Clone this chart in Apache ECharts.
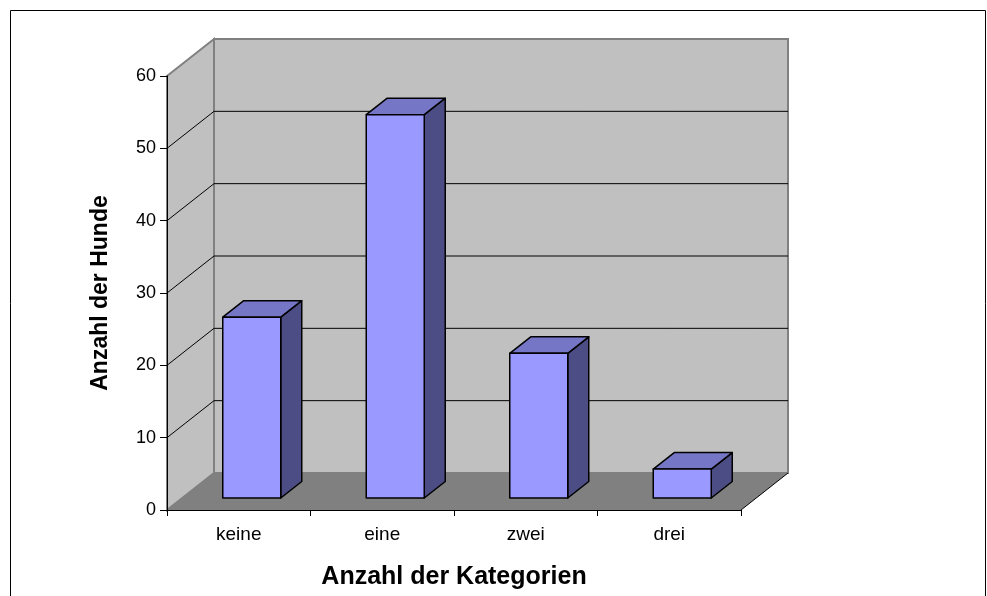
<!DOCTYPE html>
<html>
<head>
<meta charset="utf-8">
<script src="https://cdn.jsdelivr.net/npm/echarts@6/dist/echarts.min.js"></script>
<style>
html, body { margin: 0; padding: 0; background: #fff; }
#chartColumn { width: 987px; height: 596px; }
</style>
</head>
<body>
<div id="chartColumn"></div>
<script>
// Werte
const categories = ['keine', 'eine', 'zwei', 'drei'];
const hunde = [25, 53, 20, 4];
const yTicks = [0, 10, 20, 30, 40, 50, 60];

// 3D-Versatz (Pixel)
const DEPTH_X = 47, DEPTH_Y = -37;      // Tiefe von Boden und Wänden
const BAR_OFF_X = 13, BAR_OFF_Y = -12;  // Vorderseite der Säulen
const BAR_DX = 21, BAR_DY = -16.5;      // Tiefe der Säulen
const BAR_W = 58;

const FONT = 'Liberation Sans, Arial, sans-serif';

const chart = echarts.init(document.getElementById('chartColumn'));

// Rückwand, Seitenwand, Boden und Gitterlinien
function renderWalls(params, api) {
  const cs = params.coordSys;
  const x0 = cs.x, x1 = cs.x + cs.width, y0 = cs.y, y1 = cs.y + cs.height;
  const dx = DEPTH_X, dy = DEPTH_Y;
  const children = [];
  children.push({
    type: 'rect',
    shape: { x: x0 + dx, y: y0 + dy, width: cs.width, height: cs.height },
    style: { fill: '#c0c0c0', stroke: '#808080', lineWidth: 2 }
  });
  children.push({
    type: 'polygon',
    shape: { points: [[x0, y0], [x0 + dx, y0 + dy], [x0 + dx, y1 + dy], [x0, y1]] },
    style: { fill: '#c0c0c0', stroke: '#808080', lineWidth: 2 }
  });
  yTicks.forEach(function (t) {
    if (t === yTicks[0] || t === yTicks[yTicks.length - 1]) return;
    const y = api.coord([0, t])[1];
    children.push({
      type: 'polyline',
      shape: { points: [[x0, y], [x0 + dx, y + dy], [x1 + dx, y + dy]] },
      style: { stroke: '#000', lineWidth: 1, fill: null }
    });
  });
  // Boden
  children.push({
    type: 'polygon',
    shape: { points: [[x0, y1], [x0 + dx, y1 + dy], [x1 + dx, y1 + dy], [x1, y1]] },
    style: { fill: '#808080' }
  });
  children.push({
    type: 'line',
    shape: { x1: x1, y1: y1, x2: x1 + dx, y2: y1 + dy },
    style: { stroke: '#000', lineWidth: 1 }
  });
  return { type: 'group', children: children };
}

// Säule mit Vorder-, Ober- und Seitenfläche
function renderBar(params, api) {
  const i = api.value(0), v = api.value(1);
  const base = api.coord([i, 0]);
  const top = api.coord([i, v]);
  const cx = base[0] + BAR_OFF_X;
  const xl = cx - BAR_W / 2, xr = cx + BAR_W / 2;
  const yb = base[1] + BAR_OFF_Y, yt = top[1] + BAR_OFF_Y;
  const line = { stroke: '#000', lineWidth: 1.5, lineJoin: 'round' };
  return {
    type: 'group',
    children: [
      {
        type: 'polygon',
        shape: { points: [[xr, yb], [xr + BAR_DX, yb + BAR_DY], [xr + BAR_DX, yt + BAR_DY], [xr, yt]] },
        style: Object.assign({ fill: '#4d4d85' }, line)
      },
      {
        type: 'polygon',
        shape: { points: [[xl, yt], [xl + BAR_DX, yt + BAR_DY], [xr + BAR_DX, yt + BAR_DY], [xr, yt]] },
        style: Object.assign({ fill: '#7676c6' }, line)
      },
      {
        type: 'rect',
        shape: { x: xl, y: yt, width: BAR_W, height: yb - yt },
        style: Object.assign({ fill: '#9999ff' }, line)
      }
    ]
  };
}

chart.setOption({
  animation: false,
  textStyle: { fontFamily: FONT },
  graphic: [{
    type: 'rect',
    shape: { x: 10.5, y: 10.5, width: 975, height: 620 },
    style: { fill: null, stroke: '#000', lineWidth: 1 },
    silent: true
  }],
  grid: { left: 167, right: 246, top: 76, bottom: 86 },
  xAxis: {
    type: 'category',
    data: categories,
    boundaryGap: true,
    name: 'Anzahl der Kategorien',
    nameLocation: 'middle',
    nameGap: 55,
    nameTextStyle: { fontSize: 25, fontWeight: 'bold', color: '#000', fontFamily: FONT },
    axisLine: { lineStyle: { color: '#000', width: 1 } },
    axisTick: { show: true, length: 6, lineStyle: { color: '#000' } },
    axisLabel: { fontSize: 19, color: '#000', margin: 15, fontFamily: FONT },
    splitLine: { show: false }
  },
  yAxis: {
    type: 'value',
    min: 0,
    max: 60,
    interval: 10,
    name: 'Anzahl der Hunde',
    nameLocation: 'middle',
    nameRotate: 90,
    nameGap: 55,
    nameTextStyle: { fontSize: 23, fontWeight: 'bold', color: '#000', fontFamily: FONT },
    axisLine: { show: true, lineStyle: { color: '#000', width: 1 } },
    axisTick: { show: true, length: 7, lineStyle: { color: '#000' } },
    axisLabel: { fontSize: 18, color: '#000', margin: 11, fontFamily: FONT },
    splitLine: { show: false }
  },
  series: [
    {
      name: 'Wände',
      type: 'custom',
      z: -1,
      silent: true,
      renderItem: renderWalls,
      data: [[0, 0]]
    },
    {
      name: 'Anzahl der Hunde',
      type: 'custom',
      z: 3,
      renderItem: renderBar,
      encode: { x: 0, y: 1 },
      data: categories.map(function (c, i) { return [i, hunde[i]]; })
    }
  ]
});
</script>
</body>
</html>
